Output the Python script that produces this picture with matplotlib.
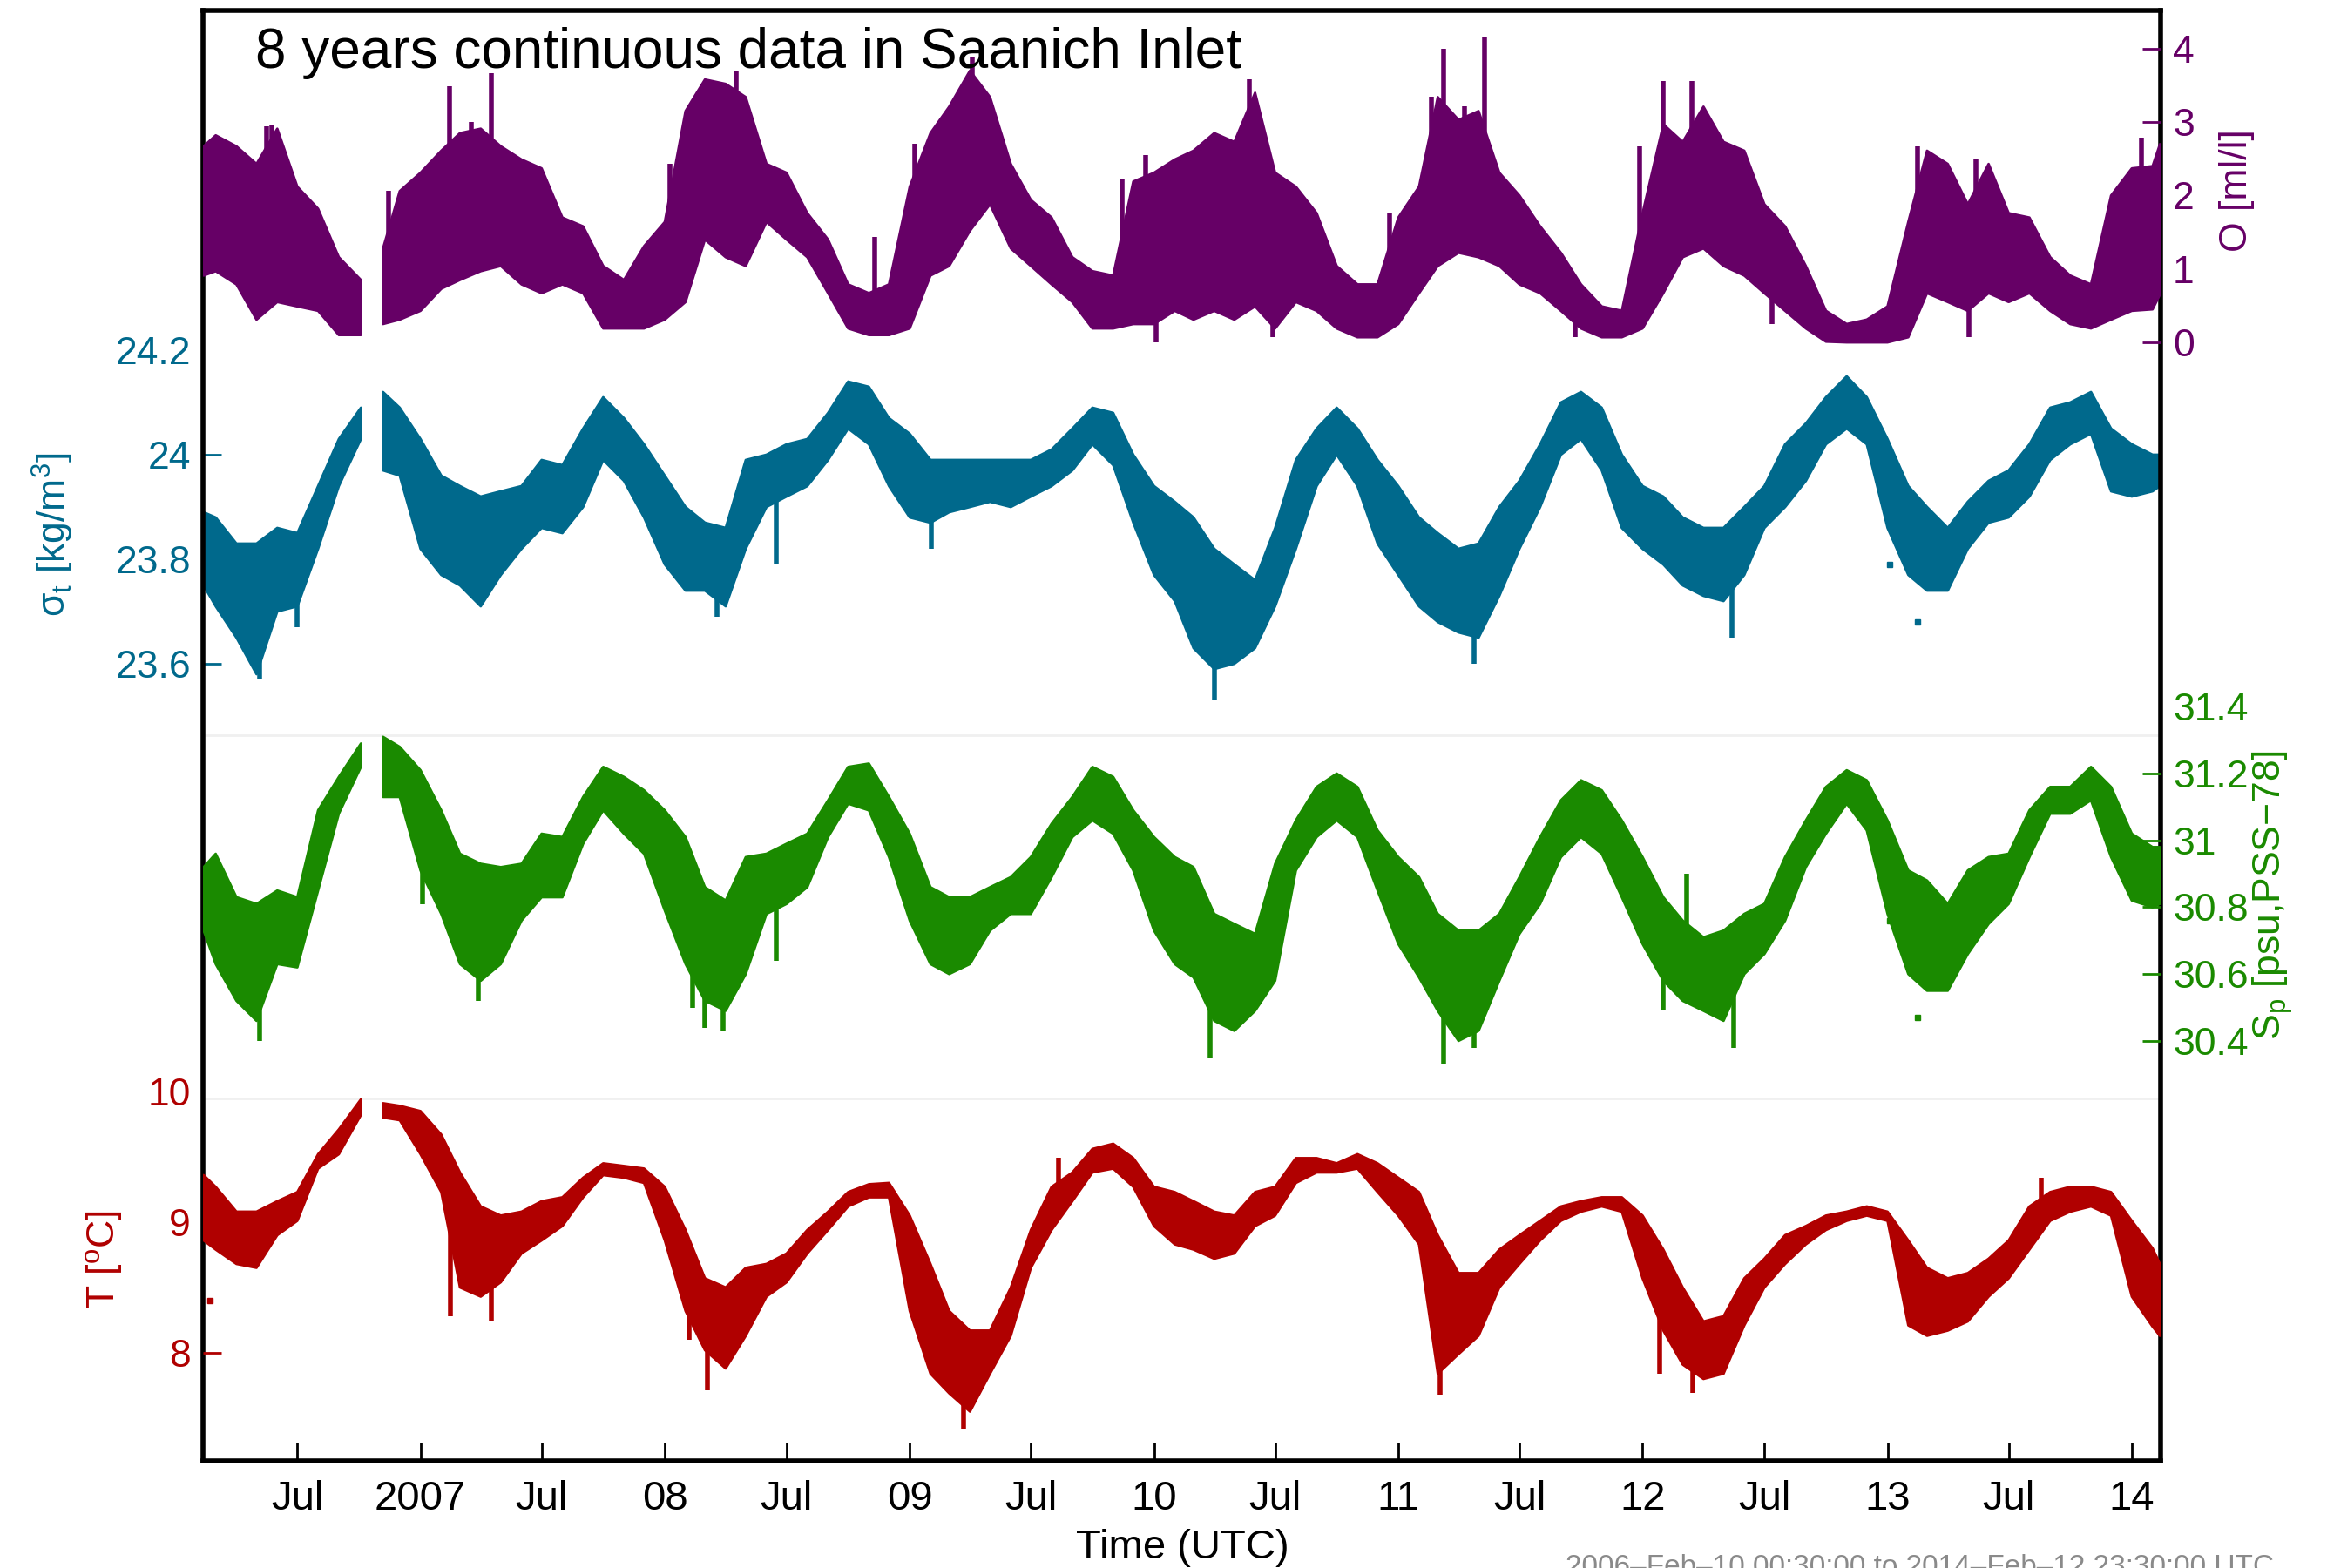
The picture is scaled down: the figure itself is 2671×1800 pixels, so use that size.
import matplotlib
matplotlib.use('Agg')
import matplotlib.pyplot as plt
import numpy as np
import pandas as pd

plt.rcParams['font.family'] = ['Liberation Sans', 'DejaVu Sans']
plt.rcParams['mathtext.fontset'] = 'custom'
plt.rcParams['mathtext.rm'] = 'Liberation Sans'
plt.rcParams['mathtext.it'] = 'Liberation Sans'
plt.rcParams['mathtext.default'] = 'regular'

nan = np.nan

# roughly monthly envelope samples (min / max of the hourly record), NaN row = Oct 2006 gap
dates = pd.to_datetime(
    ['2006-02-11'] + [f'2006-{m:02d}-01' for m in range(3, 10)]
    + ['2006-10-04', '2006-10-20', '2006-11-06']
    + list(pd.date_range('2006-12-01', '2014-02-01', freq='MS').strftime('%Y-%m-%d'))
    + ['2014-02-12'])

# oxygen [ml/l]
oxy_hi = [2.67, 2.82, 2.67, 2.43, 2.91, 2.12, 1.82, 1.16, 0.85, nan, 1.28, 2.06,
          2.31, 2.61, 2.85, 2.91, 2.67, 2.49, 2.37, 1.70, 1.58, 1.04, 0.85, 1.31,
          1.64, 3.15, 3.58, 3.52, 3.34, 2.43, 2.31, 1.76, 1.40, 0.79, 0.67, 0.79,
          2.12, 2.85, 3.21, 3.70, 3.34, 2.43, 1.94, 1.70, 1.16, 0.97, 0.91, 2.19,
          2.31, 2.49, 2.61, 2.85, 2.73, 3.40, 2.31, 2.12, 1.76, 1.04, 0.79, 0.79,
          1.70, 2.12, 3.34, 3.03, 3.15, 2.31, 2.00, 1.58, 1.22, 0.79, 0.49, 0.43,
          1.76, 2.97, 2.73, 3.21, 2.73, 2.61, 1.88, 1.58, 1.04, 0.43, 0.25, 0.31,
          0.49, 1.64, 2.61, 2.43, 1.88, 2.43, 1.76, 1.70, 1.16, 0.91, 0.79, 2.00,
          2.37, 2.40, 2.70]
oxy_lo = [0.91, 0.97, 0.79, 0.31, 0.55, 0.49, 0.43, 0.10, 0.10, nan, 0.25, 0.31,
          0.43, 0.73, 0.85, 0.97, 1.04, 0.79, 0.67, 0.79, 0.67, 0.19, 0.19, 0.19,
          0.31, 0.55, 1.40, 1.16, 1.04, 1.64, 1.40, 1.16, 0.67, 0.19, 0.10, 0.10,
          0.19, 0.91, 1.04, 1.52, 1.88, 1.28, 1.04, 0.79, 0.55, 0.19, 0.19, 0.25,
          0.25, 0.43, 0.31, 0.43, 0.31, 0.49, 0.19, 0.55, 0.43, 0.19, 0.07, 0.07,
          0.25, 0.67, 1.04, 1.22, 1.16, 1.04, 0.79, 0.67, 0.43, 0.19, 0.07, 0.07,
          0.19, 0.67, 1.16, 1.28, 1.04, 0.91, 0.67, 0.43, 0.19, 0.01, 0.00, 0.00,
          0.00, 0.07, 0.67, 0.55, 0.43, 0.67, 0.55, 0.67, 0.43, 0.25, 0.19, 0.31,
          0.43, 0.45, 0.65]

# sigma-t [kg/m3]
sig_hi = [23.89, 23.88, 23.83, 23.83, 23.86, 23.85, 23.94, 24.03, 24.09, nan, 24.12, 24.09,
          24.03, 23.96, 23.94, 23.92, 23.93, 23.94, 23.99, 23.98, 24.05, 24.11, 24.07, 24.02,
          23.96, 23.90, 23.87, 23.86, 23.99, 24.00, 24.02, 24.03, 24.08, 24.14, 24.13, 24.07,
          24.04, 23.99, 23.99, 23.99, 23.99, 23.99, 23.99, 24.01, 24.05, 24.09, 24.08, 24.00,
          23.94, 23.91, 23.88, 23.82, 23.79, 23.76, 23.86, 23.99, 24.05, 24.09, 24.05, 23.99,
          23.94, 23.88, 23.85, 23.82, 23.83, 23.90, 23.95, 24.02, 24.10, 24.12, 24.09, 24.00,
          23.94, 23.92, 23.88, 23.86, 23.86, 23.90, 23.94, 24.02, 24.06, 24.11, 24.15, 24.11,
          24.03, 23.94, 23.90, 23.86, 23.91, 23.95, 23.97, 24.02, 24.09, 24.10, 24.12, 24.05,
          24.02, 24.00, 24.00]
sig_lo = [23.75, 23.71, 23.65, 23.58, 23.70, 23.71, 23.82, 23.94, 24.03, nan, 23.97, 23.96,
          23.82, 23.77, 23.75, 23.71, 23.77, 23.82, 23.86, 23.85, 23.90, 23.99, 23.95, 23.88,
          23.79, 23.74, 23.74, 23.71, 23.82, 23.90, 23.92, 23.94, 23.99, 24.05, 24.02, 23.94,
          23.88, 23.87, 23.89, 23.90, 23.91, 23.90, 23.92, 23.94, 23.97, 24.02, 23.98, 23.87,
          23.77, 23.72, 23.63, 23.59, 23.60, 23.63, 23.71, 23.82, 23.94, 24.00, 23.94, 23.83,
          23.77, 23.71, 23.68, 23.66, 23.65, 23.73, 23.82, 23.90, 24.00, 24.03, 23.97, 23.86,
          23.82, 23.79, 23.75, 23.73, 23.72, 23.77, 23.86, 23.90, 23.95, 24.02, 24.05, 24.02,
          23.86, 23.77, 23.74, 23.74, 23.82, 23.87, 23.88, 23.92, 23.99, 24.02, 24.04, 23.93,
          23.92, 23.93, 23.94]

# practical salinity
sal_hi = [30.92, 30.96, 30.83, 30.81, 30.85, 30.83, 31.09, 31.19, 31.29, nan, 31.31, 31.28,
          31.21, 31.09, 30.96, 30.93, 30.92, 30.93, 31.02, 31.01, 31.13, 31.22, 31.19, 31.15,
          31.09, 31.01, 30.86, 30.82, 30.95, 30.96, 30.99, 31.02, 31.12, 31.22, 31.23, 31.13,
          31.02, 30.86, 30.83, 30.83, 30.86, 30.89, 30.95, 31.05, 31.13, 31.22, 31.19, 31.09,
          31.01, 30.95, 30.92, 30.78, 30.75, 30.72, 30.93, 31.06, 31.16, 31.20, 31.16, 31.03,
          30.95, 30.89, 30.78, 30.73, 30.73, 30.78, 30.89, 31.01, 31.12, 31.18, 31.15, 31.06,
          30.95, 30.83, 30.76, 30.71, 30.73, 30.78, 30.81, 30.95, 31.06, 31.16, 31.21, 31.18,
          31.06, 30.91, 30.88, 30.81, 30.91, 30.95, 30.96, 31.09, 31.16, 31.16, 31.22, 31.16,
          31.02, 30.98, 30.98]
sal_lo = [30.73, 30.63, 30.52, 30.46, 30.63, 30.62, 30.85, 31.08, 31.22, nan, 31.13, 31.13,
          30.91, 30.78, 30.63, 30.58, 30.63, 30.76, 30.83, 30.83, 30.99, 31.09, 31.02, 30.96,
          30.79, 30.63, 30.52, 30.49, 30.60, 30.78, 30.81, 30.86, 31.01, 31.11, 31.09, 30.95,
          30.76, 30.63, 30.60, 30.63, 30.73, 30.78, 30.78, 30.89, 31.01, 31.06, 31.02, 30.91,
          30.73, 30.63, 30.59, 30.46, 30.43, 30.49, 30.58, 30.91, 31.01, 31.06, 31.01, 30.85,
          30.69, 30.59, 30.49, 30.40, 30.43, 30.58, 30.72, 30.81, 30.95, 31.01, 30.96, 30.83,
          30.69, 30.58, 30.52, 30.49, 30.46, 30.60, 30.66, 30.76, 30.92, 31.02, 31.11, 31.03,
          30.78, 30.60, 30.55, 30.55, 30.66, 30.75, 30.81, 30.95, 31.08, 31.08, 31.12, 30.95,
          30.82, 30.80, 30.81]

# temperature [degC]
tmp_hi = [9.36, 9.27, 9.08, 9.08, 9.16, 9.23, 9.52, 9.71, 9.94, nan, 9.91, 9.89,
          9.85, 9.67, 9.38, 9.12, 9.05, 9.08, 9.16, 9.19, 9.34, 9.45, 9.43, 9.41,
          9.27, 8.94, 8.57, 8.50, 8.65, 8.68, 8.76, 8.94, 9.08, 9.23, 9.29, 9.30,
          9.05, 8.68, 8.32, 8.17, 8.17, 8.50, 8.94, 9.27, 9.38, 9.56, 9.60, 9.49,
          9.27, 9.23, 9.16, 9.08, 9.05, 9.23, 9.27, 9.49, 9.49, 9.45, 9.52, 9.45,
          9.34, 9.23, 8.90, 8.61, 8.61, 8.79, 8.90, 9.01, 9.12, 9.16, 9.19, 9.19,
          9.05, 8.79, 8.50, 8.24, 8.28, 8.57, 8.72, 8.90, 8.97, 9.05, 9.08, 9.12,
          9.08, 8.86, 8.65, 8.57, 8.61, 8.72, 8.86, 9.12, 9.23, 9.27, 9.27, 9.23,
          9.01, 8.80, 8.68]
tmp_lo = [8.86, 8.79, 8.68, 8.65, 8.90, 9.01, 9.41, 9.52, 9.82, nan, 9.80, 9.78,
          9.52, 9.23, 8.50, 8.43, 8.54, 8.76, 8.86, 8.97, 9.19, 9.36, 9.34, 9.30,
          8.86, 8.32, 8.02, 7.88, 8.13, 8.43, 8.54, 8.76, 8.94, 9.12, 9.19, 9.19,
          8.32, 7.84, 7.69, 7.55, 7.84, 8.13, 8.65, 8.94, 9.16, 9.38, 9.41, 9.27,
          8.97, 8.83, 8.79, 8.72, 8.76, 8.97, 9.05, 9.30, 9.38, 9.38, 9.41, 9.23,
          9.05, 8.83, 7.84, 7.99, 8.13, 8.50, 8.68, 8.86, 9.01, 9.08, 9.12, 9.08,
          8.57, 8.17, 7.91, 7.80, 7.84, 8.21, 8.50, 8.68, 8.83, 8.94, 9.01, 9.05,
          9.01, 8.21, 8.13, 8.17, 8.24, 8.43, 8.57, 8.79, 9.01, 9.08, 9.12, 9.05,
          8.43, 8.20, 8.13]

# single spikes that stick out of the envelope (date, bottom, top)
oxy_spk_dates = ['2006-05-16', '2006-05-24', '2006-11-14', '2007-02-14', '2007-03-18', '2007-04-17',
                 '2008-01-09', '2008-04-17', '2008-11-10', '2009-01-09', '2009-04-05', '2009-11-14',
                 '2009-12-20', '2010-05-23', '2010-12-19', '2011-02-19', '2011-03-10', '2011-04-10',
                 '2011-05-10', '2011-12-28', '2012-02-01', '2012-03-15', '2013-02-15', '2013-05-13',
                 '2014-01-15',
                 '2010-01-04', '2010-06-28', '2011-09-22', '2012-07-13', '2013-05-03']
oxy_spk_lo = [1.0, 1.5, 0.6, 2.0, 1.2, 2.2,
              0.5, 2.5, 0.3, 0.8, 2.5, 0.5,
              1.5, 2.0, 0.4, 1.0, 2.0, 1.3,
              2.2, 0.3, 2.0, 2.0, 0.5, 0.7,
              1.5,
              0.0, 0.07, 0.07, 0.25, 0.07]
oxy_spk_hi = [2.94, 2.96, 2.06, 3.49, 3.00, 3.67,
              2.43, 3.70, 1.43, 2.70, 3.88, 2.22,
              2.55, 3.58, 1.76, 3.34, 4.00, 3.21,
              4.15, 2.67, 3.56, 3.56, 2.67, 2.49,
              2.79,
              1.0, 1.0, 0.8, 1.2, 1.0]

sig_spk_dates = ['2006-05-06', '2006-07-01', '2008-03-19', '2008-06-16', '2009-02-02',
                 '2010-04-01', '2011-04-24', '2012-05-13']
sig_spk_lo = [23.57, 23.67, 23.69, 23.79, 23.82, 23.53, 23.60, 23.65]
sig_spk_hi = [23.75, 23.80, 23.80, 23.92, 23.92, 23.70, 23.75, 23.80]

sal_spk_dates = ['2006-05-06', '2007-01-04', '2007-03-28', '2008-02-11', '2008-03-01',
                 '2008-03-28', '2008-06-16', '2010-03-26', '2011-03-10', '2011-04-24',
                 '2012-02-01', '2012-05-16', '2012-03-07']
sal_spk_lo = [30.40, 30.81, 30.52, 30.50, 30.44, 30.43, 30.64, 30.35, 30.33, 30.38,
              30.49, 30.38, 30.70]
sal_spk_hi = [30.60, 31.00, 30.70, 30.75, 30.60, 30.60, 30.80, 30.55, 30.55, 30.60,
              30.70, 30.55, 30.90]

tmp_spk_dates = ['2007-02-15', '2007-04-17', '2008-02-06', '2008-03-05', '2009-02-06',
                 '2009-03-22', '2009-08-11', '2011-03-04', '2012-01-27', '2012-03-16',
                 '2013-08-19']
tmp_spk_lo = [8.28, 8.24, 8.10, 7.71, 7.82, 7.42, 9.10, 7.68, 7.84, 7.69, 9.00]
tmp_spk_hi = [9.30, 8.80, 8.60, 8.30, 8.50, 8.00, 9.49, 8.60, 8.50, 8.20, 9.34]

# isolated points
tmp_dot_dates = ['2006-02-21']
tmp_dot_vals = [8.4]
sig_dot_dates = ['2013-01-04', '2013-02-15']
sig_dot_vals = [23.79, 23.68]
sal_dot_dates = ['2013-01-04', '2013-02-15']
sal_dot_vals = [30.76, 30.47]

x_tick_dates = ['2006-07-01', '2007-01-01', '2007-07-01', '2008-01-01', '2008-07-01',
                '2009-01-01', '2009-07-01', '2010-01-01', '2010-07-01', '2011-01-01',
                '2011-07-01', '2012-01-01', '2012-07-01', '2013-01-01', '2013-07-01', '2014-01-01']
x_tick_labels = ['Jul', '2007', 'Jul', '08', 'Jul', '09', 'Jul', '10', 'Jul', '11',
                 'Jul', '12', 'Jul', '13', 'Jul', '14']

oxy_ticks = [0, 1, 2, 3, 4]
oxy_tick_labels = ['0', '1', '2', '3', '4']
sig_ticks = [23.6, 23.8, 24.0, 24.2]
sig_tick_labels = ['23.6', '23.8', '24', '24.2']
sal_ticks = [30.4, 30.6, 30.8, 31.0, 31.2, 31.4]
sal_tick_labels = ['30.4', '30.6', '30.8', '31', '31.2', '31.4']
tmp_ticks = [8, 9, 10]
tmp_tick_labels = ['8', '9', '10']

c_oxy = '#660066'
c_sig = '#00698c'
c_sal = '#1a8a00'
c_tmp = '#b00000'

W, H = 2671, 1800
fig = plt.figure(figsize=(W / 100, H / 100), dpi=100)
L, R, T, B = 233, 2480, 12, 1677
ax = fig.add_axes([L / W, 1 - B / H, (R - L) / W, (B - T) / H])

ax_sig = ax
ax_oxy = ax.twinx()
ax_sal = ax.twinx()
ax_tmp = ax.twinx()

# y-limits chosen so each variable sits in its own band of the shared frame
ax_oxy.set_ylim(-15.23, 4.52)
ax_sig.set_ylim(22.075, 24.85)
ax_sal.set_ylim(29.143, 33.484)
ax_tmp.set_ylim(7.173, 18.273)

ok = np.isfinite(np.array(oxy_hi))
for a, hi, lo, col, sd, slo, shi in [
        (ax_oxy, oxy_hi, oxy_lo, c_oxy, oxy_spk_dates, oxy_spk_lo, oxy_spk_hi),
        (ax_sig, sig_hi, sig_lo, c_sig, sig_spk_dates, sig_spk_lo, sig_spk_hi),
        (ax_sal, sal_hi, sal_lo, c_sal, sal_spk_dates, sal_spk_lo, sal_spk_hi),
        (ax_tmp, tmp_hi, tmp_lo, c_tmp, tmp_spk_dates, tmp_spk_lo, tmp_spk_hi)]:
    a.fill_between(dates, lo, hi, where=ok, color=col, edgecolor=col, lw=2)
    a.vlines(pd.to_datetime(sd), slo, shi, color=col, lw=4)

ax_tmp.plot(pd.to_datetime(tmp_dot_dates), tmp_dot_vals, 's', color=c_tmp, ms=5)
ax_sig.plot(pd.to_datetime(sig_dot_dates), sig_dot_vals, 's', color=c_sig, ms=4)
ax_sal.plot(pd.to_datetime(sal_dot_dates), sal_dot_vals, 's', color=c_sal, ms=4)

# faint panel separators
for yy in (0.25, 0.5):
    ax.plot([0, 1], [yy, yy], transform=ax.transAxes, color='#f0f0f0', lw=2, zorder=0)

ax.set_xlim(pd.Timestamp('2006-02-10'), pd.Timestamp('2014-02-13'))
ax.set_xticks(pd.to_datetime(x_tick_dates), x_tick_labels)
ax.tick_params(axis='x', direction='in', length=15, width=2, labelsize=34, pad=16)

for a in (ax_oxy, ax_sal, ax_tmp):
    for s in a.spines.values():
        s.set_visible(False)
for s in ax.spines.values():
    s.set_linewidth(4)

ax_sig.set_yticks(sig_ticks, sig_tick_labels)
ax_oxy.set_yticks(oxy_ticks, oxy_tick_labels)
ax_sal.set_yticks(sal_ticks, sal_tick_labels)
ax_tmp.set_yticks(tmp_ticks, tmp_tick_labels)
ax_tmp.yaxis.tick_left()
ax_tmp.yaxis.set_label_position('left')

for a, col in [(ax_sig, c_sig), (ax_oxy, c_oxy), (ax_sal, c_sal), (ax_tmp, c_tmp)]:
    a.tick_params(axis='y', direction='in', length=15, width=2, colors=col,
                  labelsize=32, pad=10)

# top labels carry no tick mark in the original
for a in (ax_sig, ax_sal, ax_tmp):
    t = a.yaxis.get_major_ticks()[-1]
    t.tick1line.set_visible(False)
    t.tick2line.set_visible(False)

ax_oxy.set_ylabel('O [ml/l]', color=c_oxy, fontsize=32, rotation=90)
ax_oxy.yaxis.set_label_coords(1.030, 0.876)
ax_sig.set_ylabel('σ$_t$ [kg/m$^3$]', color=c_sig, fontsize=32)
ax_sig.yaxis.set_label_coords(-0.065, 0.639)
ax_sal.set_ylabel('S$_p$ [psu,PSS\u221278]', color=c_sal, fontsize=32, rotation=90)
ax_sal.yaxis.set_label_coords(1.046, 0.390)
ax_tmp.set_ylabel('T [$^o$C]', color=c_tmp, fontsize=32)
ax_tmp.yaxis.set_label_coords(-0.040, 0.139)

fig.text(293 / W, 1 - 78 / H, '8 years continuous data in Saanich Inlet',
         fontsize=46, va='baseline', ha='left')
fig.text(1357 / W, 1 - 1777 / H, 'Time (UTC)', fontsize=34, ha='center', va='center')
fig.text(1797 / W, 1 - 1784 / H, '2006\u2013Feb\u201310 00:30:00 to 2014\u2013Feb\u201312 23:30:00 UTC',
         fontsize=24, color='#8a8a8a', ha='left', va='top')

fig.savefig('out.png', dpi=100)
